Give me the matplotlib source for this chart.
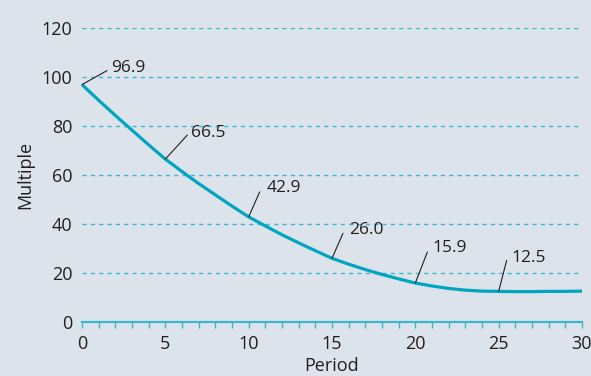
import numpy as np
import matplotlib

matplotlib.use("Agg")

import matplotlib.pyplot as plt  # noqa: E402

plt.rcParams["font.family"] = ["Open Sans", "DejaVu Sans"]

# data
period = list(range(31))
multiple = [
    96.9, 90.5, 84.3, 78.3, 72.3, 66.5, 61.4, 56.5, 51.9, 47.3,
    42.9, 39.2, 35.6, 32.3, 29.1, 26.0, 23.6, 21.4, 19.4, 17.6,
    15.9, 14.7, 13.7, 13.0, 12.6, 12.5, 12.4, 12.4, 12.5, 12.5, 12.6,
]
label_periods = [0, 5, 10, 15, 20, 25]
yticks = [0, 20, 40, 60, 80, 100, 120]
xticks = [0, 5, 10, 15, 20, 25, 30]

# leader end / text anchor offsets, in pixels (dx right, dy up)
leader_px = [(25, 14), (22, 24), (11, 25), (11, 25), (12, 31), (8, 31)]
text_px = [(29, 17), (26, 26), (18, 29), (17, 28), (17, 35), (13, 33)]

bg = "#dce3eb"
cyan = "#00a5bf"
grid_c = "#3bb8cc"
text_c = "#231f20"
px = 0.72  # points per pixel at 100 dpi

fig = plt.figure(figsize=(5.91, 3.76), dpi=100)
fig.patch.set_facecolor(bg)
ax = fig.add_axes([82 / 591, 1 - 322 / 376, 500 / 591, 294 / 376])
ax.set_facecolor(bg)

ax.set_xlim(0, 30)
ax.set_ylim(0, 120)

for y in yticks[1:]:
    ax.axhline(y, color=grid_c, lw=1.0, ls=(0, (3, 3)), zorder=1)
ax.axhline(0, color=grid_c, lw=1.6, zorder=2, clip_on=False)

ax.plot(period, multiple, color=cyan, lw=2.3, zorder=3,
        solid_capstyle="butt", clip_on=False)

for p, (lx, ly), (tx, ty) in zip(label_periods, leader_px, text_px):
    v = multiple[p]
    ax.annotate("", xy=(p, v), xytext=(lx * px, ly * px), textcoords="offset points",
                arrowprops=dict(arrowstyle="-", color=text_c, lw=0.8,
                                shrinkA=0, shrinkB=0), zorder=4)
    ax.annotate(f"{v:.1f}", xy=(p, v), xytext=(tx * px, ty * px),
                textcoords="offset points", fontsize=12.5, color=text_c,
                ha="left", va="center", zorder=4)

for s in ax.spines.values():
    s.set_visible(False)

ax.set_xticks(xticks)
ax.set_xticks(period, minor=True)
ax.tick_params(axis="x", which="both", direction="out", length=4.5, width=1.0,
               color=grid_c, labelsize=13, labelcolor=text_c, pad=5)
ax.set_yticks(yticks)
ax.tick_params(axis="y", length=0, labelsize=13, labelcolor=text_c, pad=7)

ax.set_xlabel("Period", fontsize=13, color=text_c, labelpad=3)
ax.set_ylabel("Multiple", fontsize=13, color=text_c, labelpad=5)

fig.savefig("out.png", dpi=100, facecolor=bg)
